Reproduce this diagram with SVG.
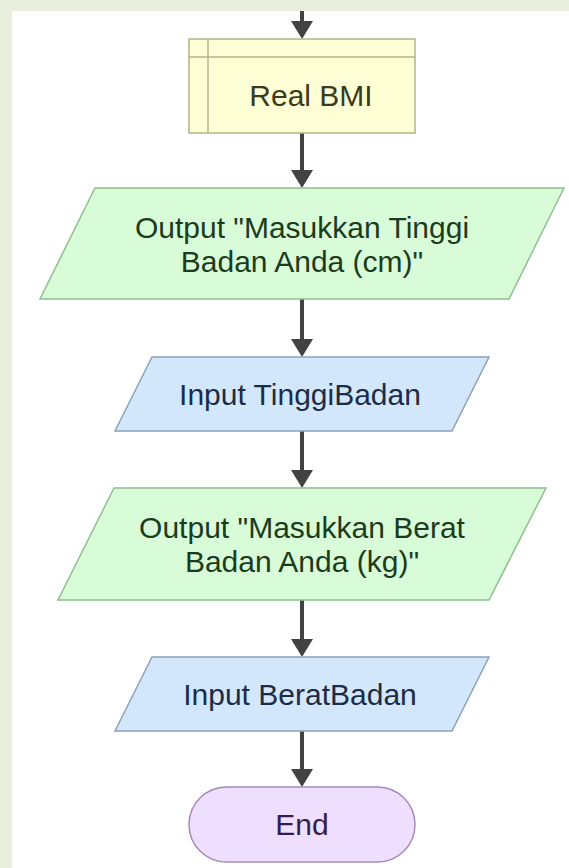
<svg xmlns="http://www.w3.org/2000/svg" width="569" height="868" viewBox="0 0 569 868">
  <style>
    text { font-family: "Liberation Sans", Arial, sans-serif; font-size: 30px; text-anchor: middle; }
    .flow { stroke: #424242; stroke-width: 4; fill: none; marker-end: url(#head); }
    .proc { fill: #ffffd6; stroke: #b3b38a; stroke-width: 1.5; }
    .proc-line { stroke: #b3b38a; stroke-width: 1.5; fill: none; }
    .out { fill: #d8fbd8; stroke: #8fbf8f; stroke-width: 1.5; }
    .in { fill: #d3e7fc; stroke: #8da2b8; stroke-width: 1.5; }
    .term { fill: #eedfff; stroke: #a789ba; stroke-width: 1.5; }
    .t-proc { fill: #3b3a1c; }
    .t-out { fill: #1c3b1c; }
    .t-in { fill: #1c2c48; }
    .t-term { fill: #361c4c; }
  </style>
  <defs>
    <marker id="head" markerUnits="userSpaceOnUse" viewBox="0 0 18 22" refX="0" refY="11" markerWidth="18" markerHeight="22" orient="auto">
      <path d="M0,0 L18,11 L0,22 z" fill="#424242"/>
    </marker>
  </defs>

  <!-- page background and canvas -->
  <rect x="0" y="0" width="569" height="868" fill="#e9eedd"/>
  <rect x="12" y="11" width="557" height="857" fill="#ffffff"/>

  <!-- connectors -->
  <g id="connectors">
    <line class="flow" x1="302" y1="11" x2="302" y2="21"/>
    <line class="flow" x1="302" y1="133" x2="302" y2="170"/>
    <line class="flow" x1="302" y1="299" x2="302" y2="339"/>
    <line class="flow" x1="302" y1="431" x2="302" y2="470"/>
    <line class="flow" x1="302" y1="600" x2="302" y2="639"/>
    <line class="flow" x1="302" y1="731" x2="302" y2="769"/>
  </g>

  <!-- predefined process -->
  <g id="real-bmi">
    <rect class="proc" x="189" y="39" width="226" height="94"/>
    <line class="proc-line" x1="208" y1="39" x2="208" y2="133"/>
    <line class="proc-line" x1="189" y1="57" x2="415" y2="57"/>
    <text class="t-proc" x="311" y="106">Real BMI</text>
  </g>

  <g id="output-tinggi">
    <polygon class="out" points="95,188 564,188 509,299 40,299"/>
    <text class="t-out" x="302" y="238">Output "Masukkan Tinggi</text>
    <text class="t-out" x="302" y="272">Badan Anda (cm)"</text>
  </g>

  <g id="input-tinggi">
    <polygon class="in" points="152,357 489,357 452,431 115,431"/>
    <text class="t-in" x="300" y="405">Input TinggiBadan</text>
  </g>

  <g id="output-berat">
    <polygon class="out" points="114,488 546,488 489,600 58,600"/>
    <text class="t-out" x="302" y="538">Output "Masukkan Berat</text>
    <text class="t-out" x="302" y="572">Badan Anda (kg)"</text>
  </g>

  <g id="input-berat">
    <polygon class="in" points="152,657 489,657 452,731 115,731"/>
    <text class="t-in" x="300" y="705">Input BeratBadan</text>
  </g>

  <g id="end">
    <rect class="term" x="189" y="787" width="226" height="75" rx="37.5" ry="37.5"/>
    <text class="t-term" x="302" y="835">End</text>
  </g>
</svg>
